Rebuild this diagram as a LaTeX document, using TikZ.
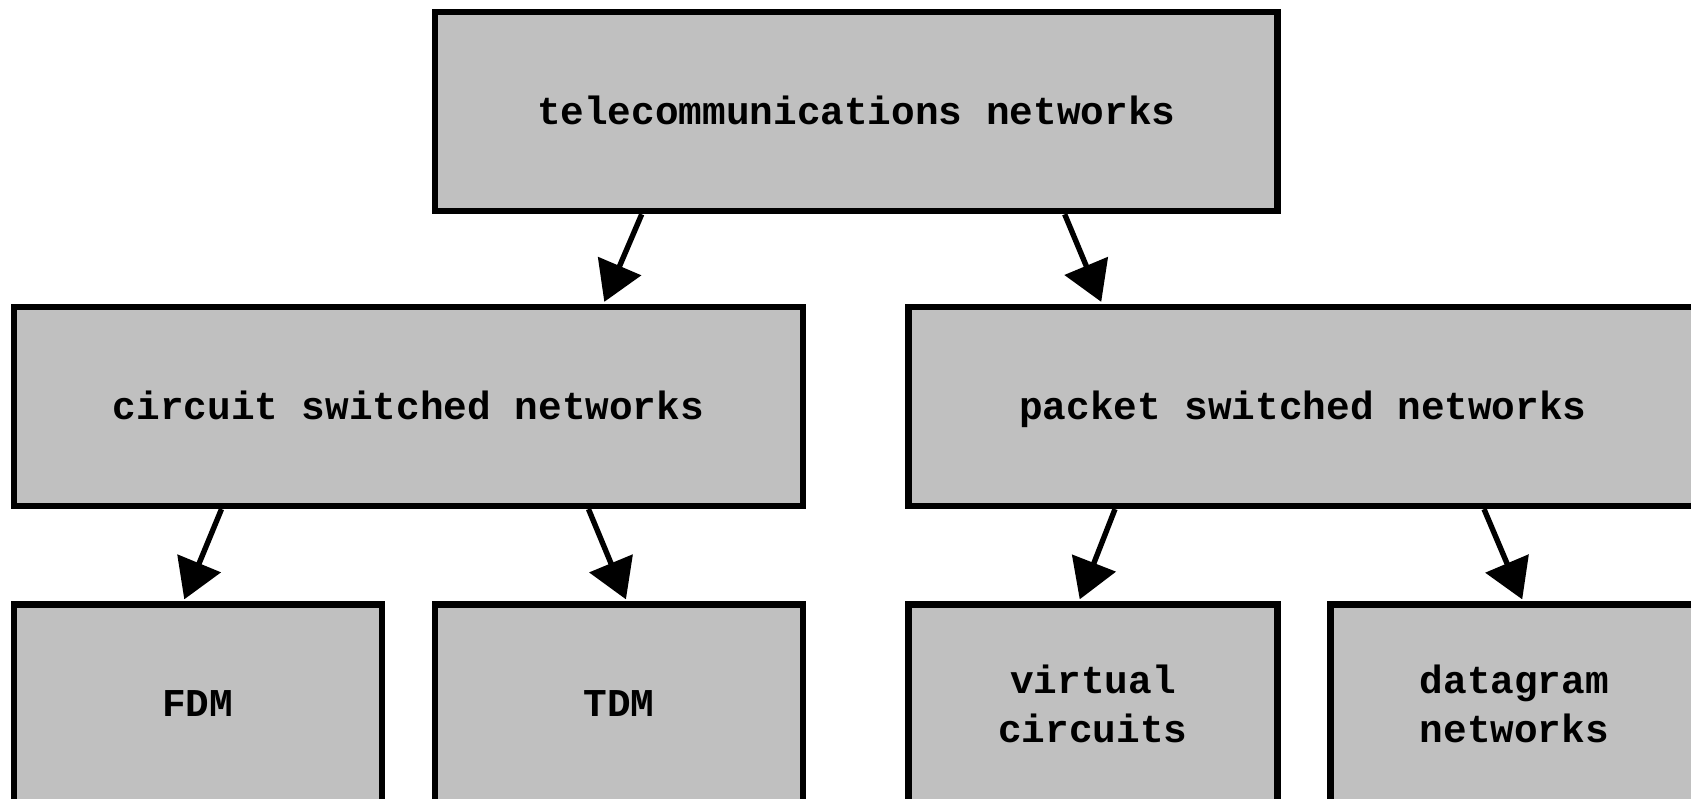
\documentclass[tikz,border=0pt]{standalone}
\usepackage{fontspec}
\setmonofont{Liberation Mono}
\usetikzlibrary{arrows.meta}
\definecolor{boxgray}{RGB}{192,192,192}
\tikzset{
  box/.style={draw=black, fill=boxgray, line width=3.3pt, inner sep=0pt,
    font=\ttfamily\bfseries\fontsize{19.7}{24.3}\selectfont, align=center},
  oneline/.style={text height=12.8pt, text depth=0pt},
  arr/.style={line width=2.7pt, -{Triangle[length=19.5pt,width=23pt]}, shorten >=1pt}
}
\begin{document}
\begin{tikzpicture}[x=0.5pt,y=-0.5pt]
\useasboundingbox (0,0) rectangle (1691,798);
\node[box, oneline, minimum width=421.2pt, minimum height=99.5pt] (top) at (856.2,111.5) {telecommunications networks};
\node[box, oneline, minimum width=394.6pt, minimum height=99.4pt] (circuit) at (408.4,406.4) {circuit switched networks};
\node[box, oneline, minimum width=394.6pt, minimum height=99.4pt] (packet) at (1302.9,406.4) {packet switched networks};
\node[box, oneline, minimum width=184pt, minimum height=99.4pt] (fdm) at (197.8,703.9) {FDM};
\node[box, oneline, minimum width=184pt, minimum height=99.4pt] (tdm) at (619,703.9) {TDM};
\node[box, minimum width=184.6pt, minimum height=99.4pt] (virtual) at (1092.9,703.9) {virtual\\circuits};
\node[box, minimum width=184pt, minimum height=99.4pt] (datagram) at (1514.3,703.9) {datagram\\networks};
\draw[arr] ([shift={(210,0)}]top.south west) -- ([shift={(593,0)}]circuit.north west);
\draw[arr] ([shift={(633,0)}]top.south west) -- ([shift={(197,0)}]packet.north west);
\draw[arr] ([shift={(211,0)}]circuit.south west) -- ([shift={(173,0)}]fdm.north west);
\draw[arr] ([shift={(578,0)}]circuit.south west) -- ([shift={(195,0)}]tdm.north west);
\draw[arr] ([shift={(210,0)}]packet.south west) -- ([shift={(174,0)}]virtual.north west);
\draw[arr] ([shift={(579,0)}]packet.south west) -- ([shift={(196,0)}]datagram.north west);
\end{tikzpicture}
\end{document}
